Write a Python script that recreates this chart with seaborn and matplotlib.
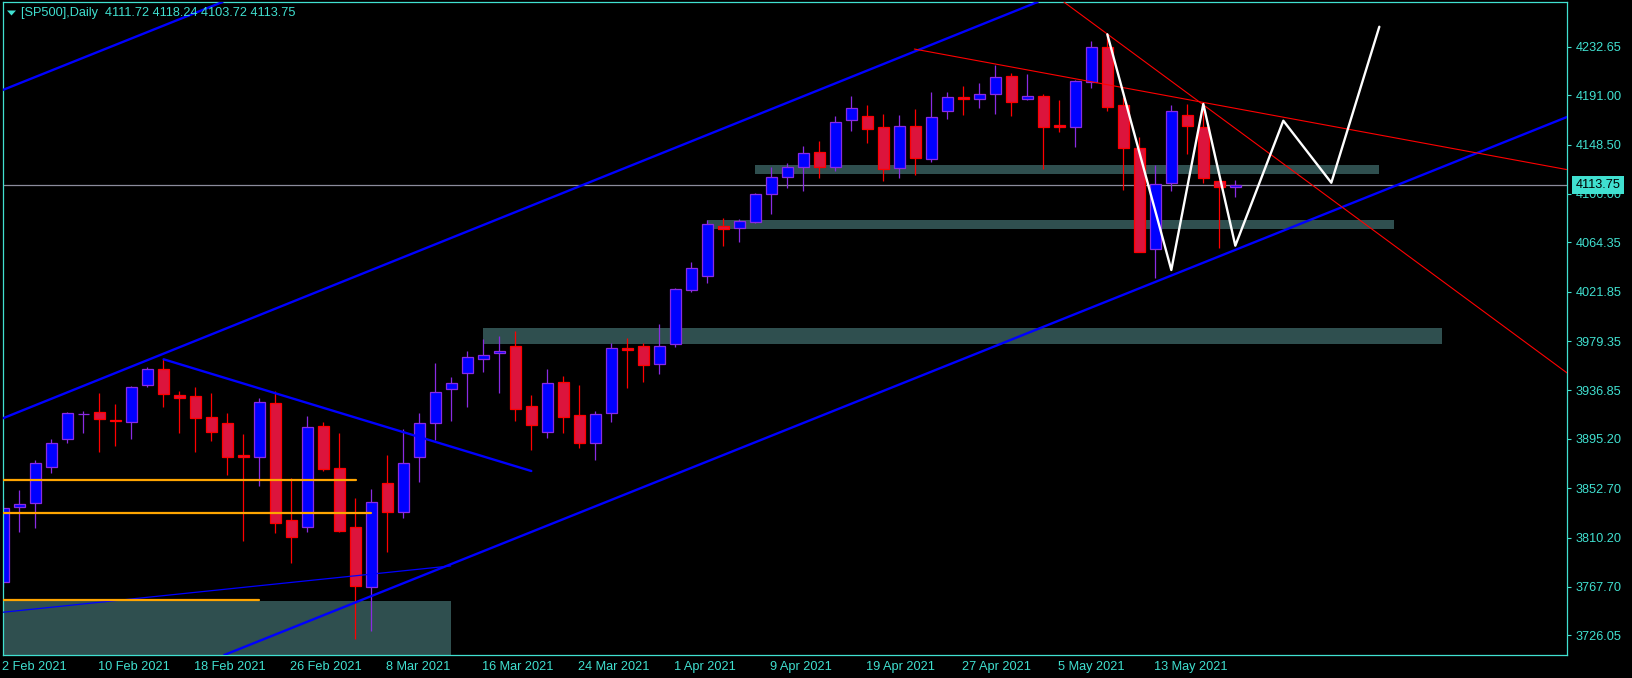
import matplotlib
matplotlib.use('Agg')
import matplotlib.pyplot as plt
import matplotlib.transforms as mtransforms
from matplotlib.patches import Rectangle, Polygon
import seaborn as sns
import numpy as np
import pandas as pd

# ---------------- data (bar index 0 = 2 Feb 2021) ----------------
opens = [3771.7, 3836.4, 3839.7, 3870.7, 3894.8, 3916.3, 3918.0, 3911.0, 3909.4, 3941.3,
         3955.0, 3932.6, 3931.8, 3913.7, 3908.5, 3881.0, 3879.3, 3925.8, 3825.0, 3819.6,
         3906.0, 3869.8, 3819.0, 3767.3, 3856.9, 3832.5, 3879.8, 3908.5, 3937.8, 3951.6,
         3964.2, 3968.8, 3975.1, 3923.5, 3901.4, 3943.8, 3915.4, 3891.9, 3917.2, 3973.1,
         3975.1, 3959.3, 3976.6, 4023.6, 4035.7, 4078.7, 4076.4, 4081.6, 4105.7, 4120.9,
         4129.5, 4141.9, 4129.5, 4169.6, 4173.1, 4163.4, 4128.1, 4164.5, 4135.8, 4177.7,
         4189.2, 4187.5, 4191.8, 4207.6, 4188.1, 4190.4, 4165.1, 4164.0, 4202.7, 4232.3,
         4182.6, 4145.3, 4058.4, 4115.2, 4174.0, 4164.0, 4116.9, 4111.72]
highs = [3843.1, 3851.1, 3877.0, 3895.0, 3917.9, 3919.2, 3934.4, 3925.2, 3940.7, 3956.8,
         3963.6, 3936.4, 3939.5, 3934.4, 3917.2, 3899.1, 3930.1, 3936.7, 3861.2, 3914.9,
         3909.7, 3899.9, 3844.0, 3852.0, 3881.3, 3903.7, 3917.7, 3960.8, 3948.7, 3970.8,
         3980.9, 3983.7, 3988.0, 3932.9, 3955.0, 3949.3, 3941.5, 3919.2, 3977.4, 3982.3,
         3978.0, 3993.8, 4024.8, 4047.4, 4083.6, 4085.0, 4084.7, 4107.1, 4129.5, 4132.4,
         4147.3, 4151.6, 4173.1, 4190.4, 4182.6, 4174.9, 4174.0, 4178.9, 4193.5, 4193.5,
         4199.0, 4201.9, 4217.1, 4209.9, 4209.3, 4192.1, 4186.9, 4204.0, 4237.7, 4242.9,
         4189.8, 4155.4, 4131.0, 4182.6, 4183.5, 4182.6, 4116.9, 4118.24]
lows = [3767.9, 3815.3, 3818.7, 3866.1, 3891.3, 3900.5, 3884.1, 3889.3, 3894.8, 3939.5,
        3922.9, 3900.5, 3884.1, 3893.6, 3864.1, 3807.5, 3854.9, 3813.8, 3788.0, 3815.3,
        3867.8, 3815.3, 3722.9, 3730.0, 3798.0, 3827.3, 3858.3, 3894.2, 3910.8, 3922.9,
        3953.0, 3934.9, 3910.8, 3885.6, 3895.8, 3900.5, 3887.0, 3877.0, 3910.0, 3939.2,
        3944.4, 3950.7, 3974.0, 4021.9, 4029.7, 4061.5, 4064.9, 4080.7, 4088.8, 4111.5,
        4108.9, 4120.1, 4126.1, 4160.5, 4149.6, 4117.5, 4120.1, 4122.4, 4133.8, 4170.6,
        4174.0, 4180.3, 4174.9, 4173.4, 4186.9, 4127.2, 4159.7, 4146.7, 4197.0, 4177.7,
        4109.4, 4056.0, 4034.0, 4108.9, 4140.4, 4115.2, 4059.8, 4103.72]
closes = [3835.4, 3838.7, 3874.1, 3891.3, 3917.2, 3916.9, 3912.0, 3910.4, 3939.5, 3955.0,
          3933.5, 3930.6, 3913.4, 3901.4, 3879.8, 3879.3, 3926.6, 3822.4, 3810.9, 3905.7,
          3868.9, 3816.1, 3768.8, 3841.1, 3832.5, 3874.1, 3908.5, 3935.2, 3943.0, 3966.0,
          3967.1, 3970.8, 3921.2, 3907.4, 3943.0, 3914.3, 3891.3, 3916.3, 3973.1, 3972.0,
          3958.5, 3975.1, 4023.9, 4042.0, 4079.9, 4075.6, 4083.0, 4105.7, 4120.9, 4129.5,
          4141.0, 4129.5, 4168.3, 4179.8, 4161.9, 4127.2, 4164.8, 4137.3, 4172.6, 4189.2,
          4187.5, 4191.8, 4206.4, 4185.5, 4190.4, 4164.0, 4164.0, 4203.3, 4232.8, 4181.2,
          4145.9, 4056.3, 4114.3, 4177.5, 4164.8, 4119.5, 4111.7, 4113.75]

date_tick_pos = [0, 6, 12, 18, 24, 30, 36, 42, 48, 54, 60, 66, 72]
date_tick_labels = ['2 Feb 2021', '10 Feb 2021', '18 Feb 2021', '26 Feb 2021', '8 Mar 2021',
                    '16 Mar 2021', '24 Mar 2021', '1 Apr 2021', '9 Apr 2021', '19 Apr 2021',
                    '27 Apr 2021', '5 May 2021', '13 May 2021']
price_ticks = [4232.65, 4191.00, 4148.50, 4106.00, 4064.35, 4021.85, 3979.35,
               3936.85, 3895.20, 3852.70, 3810.20, 3767.70, 3726.05]
current_price = 4113.75
title_text = '[SP500],Daily  4111.72 4118.24 4103.72 4113.75'

# drawings (bar index, price)
channel_lines = [[(-0.04, 4195.5), (13.5, 4270.2)],
                 [(-0.025, 3912.9), (55.64, 4221.4)],
                 [(14.08, 3710.6), (97.73, 4172.3)]]
falling_blue = [(10.02, 3963.7), (33.0, 3867.5)]
thin_blue = [(-0.025, 3745.9), (27.96, 3785.8)]
orange_levels = [(3859.8, 22.04), (3831.5, 23.0), (3756.6, 16.0)]
zones = [(-1.0, 27.96, 3690.0, 3755.6), (29.98, 89.9, 3977.1, 3990.6),
         (43.97, 86.9, 4075.9, 4083.6), (47.0, 86.0, 4123.2, 4130.97)]
red_line_steep = [(67.81, 4255.8), (90.42, 4026.2)]
red_line_flat = [(56.94, 4230.8), (90.42, 4145.6)]
zig_x = [69, 73, 75, 77, 80, 83, 86]
zig_y = [4243.5, 4040.6, 4183.5, 4061.5, 4169.1, 4115.7, 4250.0]

# ---------------- style ----------------
sns.set_style('dark')
FG = '#40E0D0'
FS = 9.2
plt.rcParams['font.family'] = ['Liberation Sans', 'DejaVu Sans']
plt.rcParams['axes.facecolor'] = 'black'
plt.rcParams['figure.facecolor'] = 'black'

W, H = 1633, 678
fig = plt.figure(figsize=(W / 100, H / 100), dpi=100)
L, R, T, B = 3, 1567, 2, 655
ax = fig.add_axes([L / W, (H - B) / H, (R - L) / W, (B - T) / H])
ax.set_facecolor('black')
ax.grid(False)

ax.set_xlim(-0.019, 97.73)
ax.set_ylim(3709.1, 4271.3)

# zones
for x0, x1, p0, p1 in zones:
    ax.add_patch(Rectangle((x0, p0), x1 - x0, p1 - p0, facecolor='#2F4F4F',
                           edgecolor='none', zorder=1))

# current price line
ax.axhline(current_price, color='#8C8C9C', lw=0.9, zorder=1.5)

# candles
df = pd.DataFrame({'o': opens, 'h': highs, 'l': lows, 'c': closes})
df['x'] = np.arange(len(df))
bull = df['c'] >= df['o']
for mask, fill, edge in [(bull, '#0000FF', '#8A2BE2'), (~bull, '#DC143C', '#FF0000')]:
    d = df[mask]
    ax.vlines(d['x'], d['l'], d['h'], colors=edge, lw=0.9, zorder=2)
    bottom = np.minimum(d['o'], d['c'])
    height = np.maximum(np.abs(d['c'] - d['o']), 0.3)
    ax.bar(d['x'], height, bottom=bottom, width=0.68, color=fill,
           edgecolor=edge, linewidth=0.9, zorder=2.2)

# channel lines
for p1, p2 in channel_lines:
    ax.axline(p1, p2, color='#0000FF', lw=1.7, zorder=3)
ax.plot(*zip(*falling_blue), color='#0000FF', lw=1.7, zorder=3)
ax.plot(*zip(*thin_blue), color='#0000FF', lw=0.9, zorder=3)
for lvl, xend in orange_levels:
    ax.plot([-0.5, xend], [lvl, lvl], color='#FFA500', lw=1.6, zorder=3)

# red lines
ax.axline(red_line_steep[0], red_line_steep[1], color='#FF0000', lw=0.8, zorder=3)
(fx0, fy0), (fx1, fy1) = red_line_flat
slope = (fy1 - fy0) / (fx1 - fx0)
ax.plot([fx0, 110], [fy0, fy0 + slope * (110 - fx0)], color='#FF0000', lw=0.8, zorder=3)

# projected zigzag
zz = pd.DataFrame({'x': zig_x, 'y': zig_y})
sns.lineplot(data=zz, x='x', y='y', ax=ax, color='white', lw=1.7, sort=False,
             estimator=None, zorder=4)
ax.set_xlabel('')
ax.set_ylabel('')

# axes styling
for s in ax.spines.values():
    s.set_color(FG)
    s.set_linewidth(0.9)
ax.yaxis.tick_right()
ax.set_yticks(price_ticks)
ax.set_yticklabels([f'{p:.2f}' for p in price_ticks])
ax.set_xticks(date_tick_pos)
ax.set_xticklabels(date_tick_labels, ha='left')
ax.tick_params(axis='both', colors=FG, labelcolor=FG, labelsize=FS, direction='out',
               length=3, width=0.8)
ax.tick_params(axis='x', pad=1.5)
ax.tick_params(axis='y', pad=3)
for lbl in ax.get_xticklabels():
    lbl.set_transform(lbl.get_transform() + mtransforms.ScaledTranslation(-1 / 100, 0, fig.dpi_scale_trans))

# current price label
trans = mtransforms.blended_transform_factory(ax.transAxes, ax.transData)
ax.annotate(f'{current_price:.2f}', xy=(1.0, current_price), xycoords=trans,
            xytext=(6, 0), textcoords='offset points', ha='left', va='center',
            fontsize=FS, color='black', zorder=10, annotation_clip=False,
            bbox=dict(boxstyle='square,pad=0.25', fc=FG, ec='none'))

# title
fig.text(21 / W, 1 - 12.7 / H, title_text, color=FG, fontsize=FS, ha='left', va='center')
fig.patches.append(Polygon([[7 / W, 1 - 10.5 / H], [16 / W, 1 - 10.5 / H],
                            [11.5 / W, 1 - 15.5 / H]], closed=True,
                           transform=fig.transFigure, facecolor=FG, edgecolor='none'))

fig.savefig('out.png', dpi=100, facecolor='black')
